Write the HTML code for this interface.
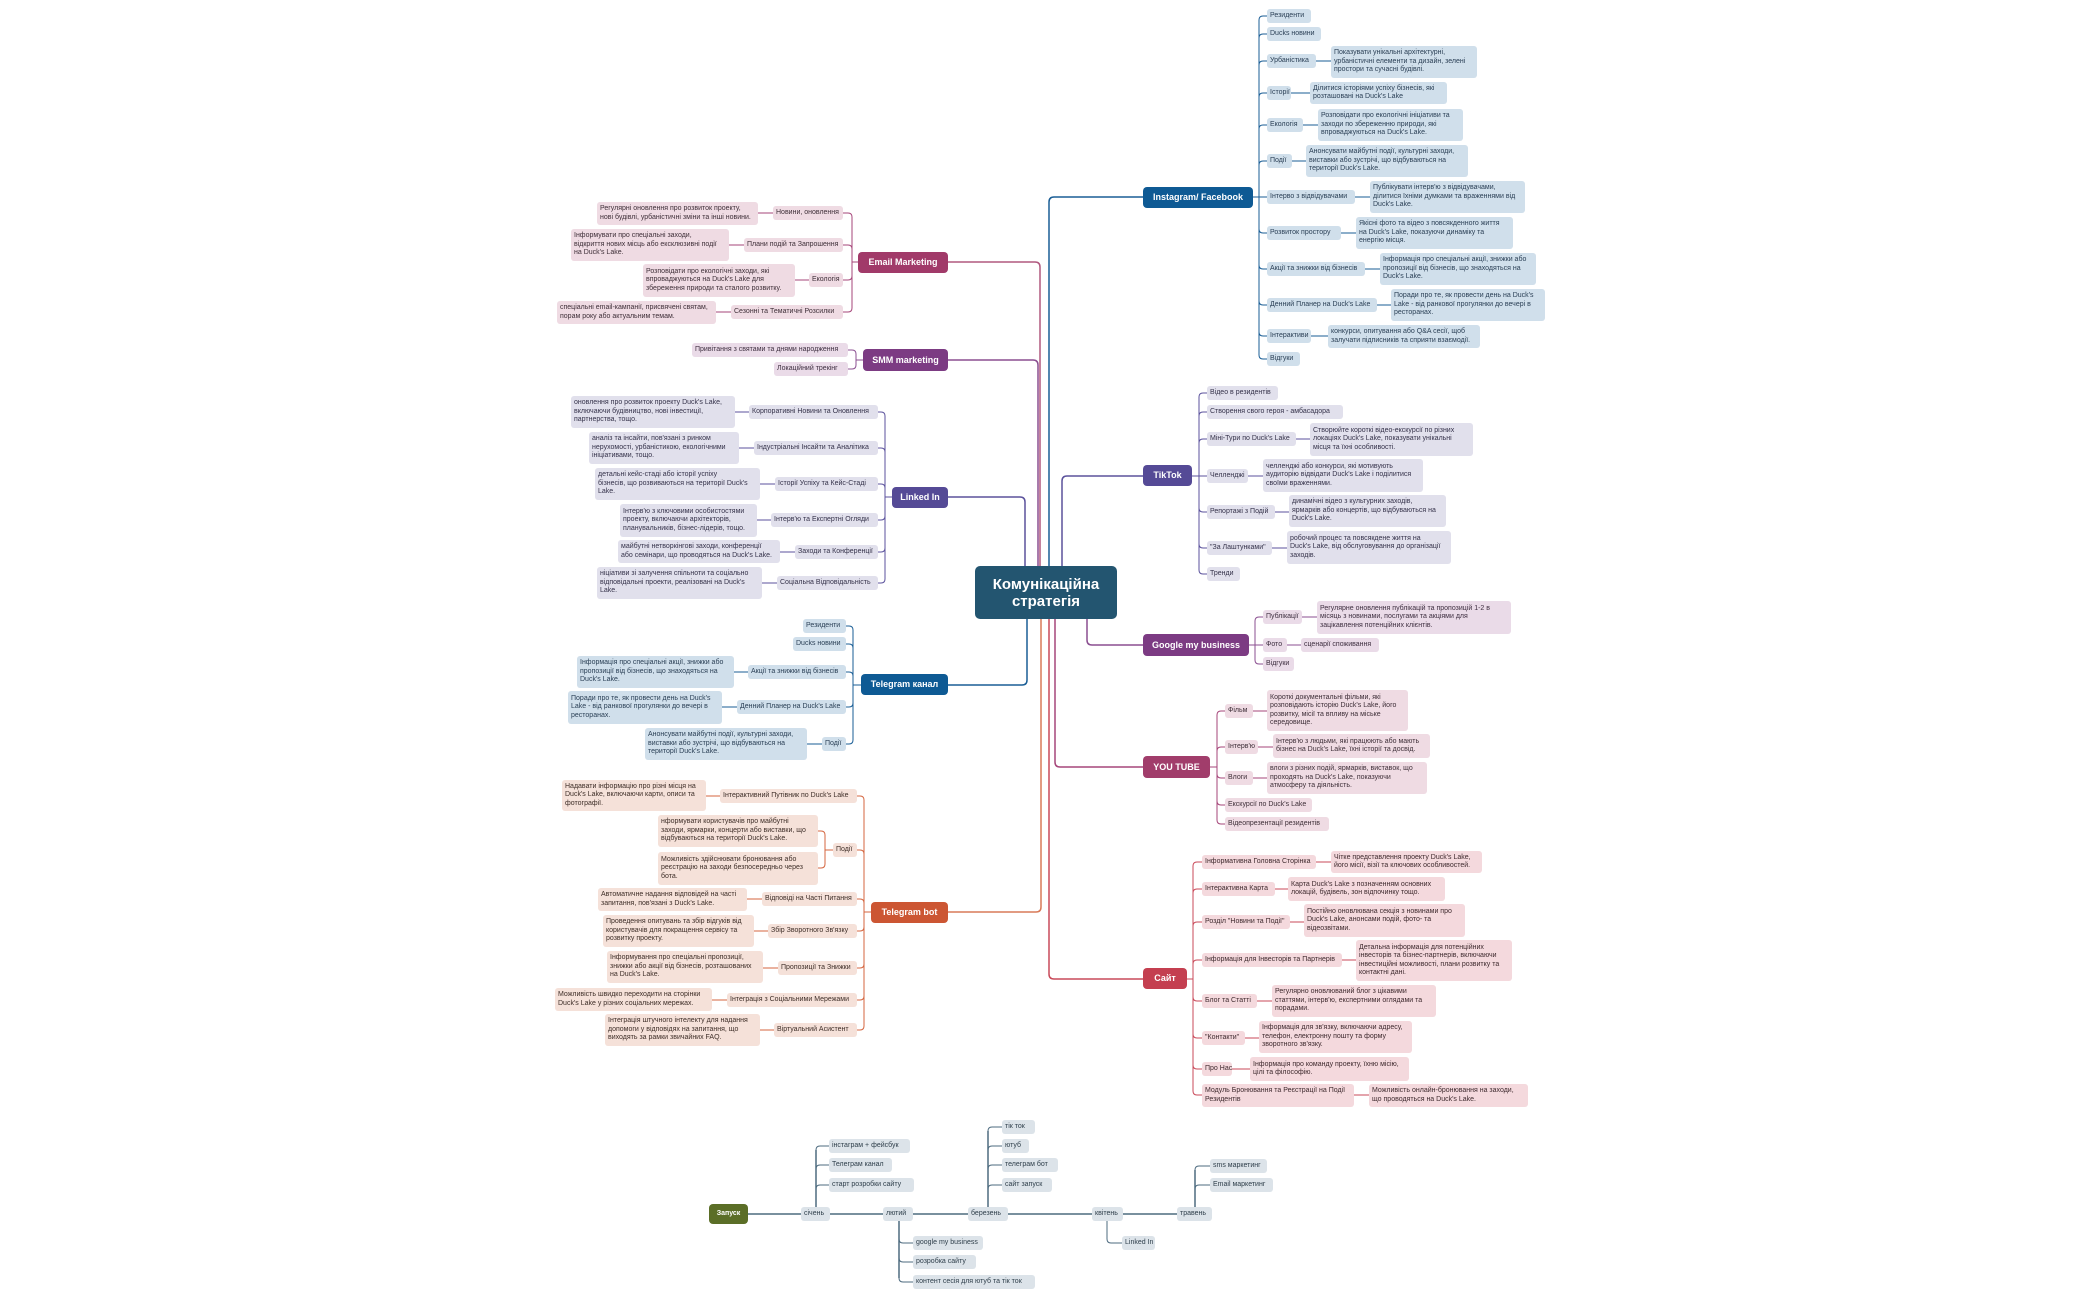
<!DOCTYPE html>
<html><head><meta charset="utf-8">
<style>
html,body{margin:0;padding:0;background:#fff;}
#c{position:relative;width:2100px;height:1299px;overflow:hidden;}
svg{position:absolute;left:0;top:0;}
.n{position:absolute;display:flex;align-items:center;box-sizing:border-box;padding:0 3px;border-radius:3px;font-family:"Liberation Sans","Noto Sans CJK SC",sans-serif;font-size:7px;line-height:8.4px;white-space:nowrap;color:#3a3440;}
.b{background:#d0dfeb;color:#2a3f55}
.p{background:#e1e0ec;color:#35324a}
.m{background:#eadbe8;color:#3e2f40}
.r{background:#efdbe3;color:#3e2f38}
.s{background:#f4d9dd;color:#3e2a2e}
.o{background:#f5e1d9;color:#3e2e28}
.g{background:#dce3e9;color:#2e3e4a}
.h{color:#fff;font-weight:bold;font-size:9px;justify-content:center;padding:0;border-radius:4px}
</style></head><body><div id="c">
<svg id="s" width="2100" height="1299"></svg>

<div class="n h" style="left:975px;top:566px;width:142px;height:53px;background:#235570;font-size:15px;line-height:17px;text-align:center;border-radius:5px">Комунікаційна<br>стратегія</div>

<div class="n h" style="left:1143px;top:187px;width:110px;height:21px;background:#0e5a94">Instagram/ Facebook</div>
<div class="n h" style="left:1143px;top:465px;width:49px;height:21px;background:#554a96">TikTok</div>
<div class="n h" style="left:1143px;top:634px;width:106px;height:22px;background:#7c3b83">Google my business</div>
<div class="n h" style="left:1143px;top:756px;width:67px;height:22px;background:#a13d6b">YOU TUBE</div>
<div class="n h" style="left:1143px;top:968px;width:44px;height:21px;background:#c43f50">Сайт</div>
<div class="n h" style="left:858px;top:252px;width:90px;height:21px;background:#a13a69">Email Marketing</div>
<div class="n h" style="left:863px;top:349px;width:85px;height:22px;background:#7c3b83">SMM marketing</div>
<div class="n h" style="left:892px;top:487px;width:56px;height:21px;background:#554a96">Linked In</div>
<div class="n h" style="left:861px;top:674px;width:87px;height:21px;background:#0e5a94">Telegram канал</div>
<div class="n h" style="left:871px;top:902px;width:77px;height:21px;background:#cc5633">Telegram bot</div>
<div class="n h" style="left:709px;top:1204px;width:39px;height:20px;background:#5b6e27;font-size:7px">Запуск</div>

<!-- Instagram -->
<div class="n b" style="left:1267px;top:9px;width:44px;height:14px">Резиденти</div>
<div class="n b" style="left:1267px;top:27px;width:54px;height:14px">Ducks новини</div>
<div class="n b" style="left:1267px;top:54px;width:49px;height:14px">Урбаністика</div>
<div class="n b" style="left:1331px;top:46px;width:146px;height:32px">Показувати унікальні архітектурні,<br>урбаністичні елементи та дизайн, зелені<br>простори та сучасні будівлі.</div>
<div class="n b" style="left:1267px;top:86px;width:24px;height:14px">Історії</div>
<div class="n b" style="left:1310px;top:82px;width:137px;height:22px">Ділитися історіями успіху бізнесів, які<br>розташовані на Duck's Lake</div>
<div class="n b" style="left:1267px;top:118px;width:36px;height:14px">Екологія</div>
<div class="n b" style="left:1318px;top:109px;width:145px;height:32px">Розповідати про екологічні ініціативи та<br>заходи по збереженню природи, які<br>впроваджуються на Duck's Lake.</div>
<div class="n b" style="left:1267px;top:154px;width:25px;height:14px">Події</div>
<div class="n b" style="left:1306px;top:145px;width:162px;height:32px">Анонсувати майбутні події, культурні заходи,<br>виставки або зустрічі, що відбуваються на<br>території Duck's Lake.</div>
<div class="n b" style="left:1267px;top:190px;width:88px;height:14px">Інтерво з відвідувачами</div>
<div class="n b" style="left:1370px;top:181px;width:155px;height:32px">Публікувати інтерв'ю з відвідувачами,<br>ділитися їхніми думками та враженнями від<br>Duck's Lake.</div>
<div class="n b" style="left:1267px;top:226px;width:74px;height:14px">Розвиток простору</div>
<div class="n b" style="left:1356px;top:217px;width:157px;height:32px">Якісні фото та відео з повсякденного життя<br>на Duck's Lake, показуючи динаміку та<br>енергію місця.</div>
<div class="n b" style="left:1267px;top:262px;width:98px;height:14px">Акції та знижки від бізнесів</div>
<div class="n b" style="left:1380px;top:253px;width:156px;height:32px">Інформація про спеціальні акції, знижки або<br>пропозиції від бізнесів, що знаходяться на<br>Duck's Lake.</div>
<div class="n b" style="left:1267px;top:298px;width:110px;height:14px">Денний Планер на Duck's Lake</div>
<div class="n b" style="left:1391px;top:289px;width:154px;height:32px">Поради про те, як провести день на Duck's<br>Lake - від ранкової прогулянки до вечері в<br>ресторанах.</div>
<div class="n b" style="left:1267px;top:329px;width:44px;height:14px">Інтерактиви</div>
<div class="n b" style="left:1328px;top:325px;width:152px;height:23px">конкурси, опитування або Q&amp;A сесії, щоб<br>залучати підписників та сприяти взаємодії.</div>
<div class="n b" style="left:1267px;top:352px;width:33px;height:14px">Відгуки</div>

<!-- TikTok -->
<div class="n p" style="left:1207px;top:386px;width:71px;height:14px">Відео в резидентів</div>
<div class="n p" style="left:1207px;top:405px;width:136px;height:14px">Створення свого героя - амбасадора</div>
<div class="n p" style="left:1207px;top:432px;width:89px;height:14px">Міні-Тури по Duck's Lake</div>
<div class="n p" style="left:1310px;top:423px;width:163px;height:33px"> Створюйте короткі відео-екскурсії по різних<br>локаціях Duck's Lake, показувати унікальні<br>місця та їхні особливості.</div>
<div class="n p" style="left:1207px;top:469px;width:41px;height:14px">Челленджі</div>
<div class="n p" style="left:1263px;top:459px;width:160px;height:33px">челленджі або конкурси, які мотивують<br>аудиторію відвідати Duck's Lake і поділитися<br>своїми враженнями.</div>
<div class="n p" style="left:1207px;top:505px;width:68px;height:14px">Репортажі з Подій</div>
<div class="n p" style="left:1289px;top:495px;width:157px;height:32px">динамічні відео з культурних заходів,<br>ярмарків або концертів, що відбуваються на<br>Duck's Lake.</div>
<div class="n p" style="left:1207px;top:541px;width:65px;height:14px">"За Лаштунками"</div>
<div class="n p" style="left:1287px;top:531px;width:164px;height:33px">робочий процес та повсякдене життя на<br>Duck's Lake, від обслуговування до організації<br>заходів.</div>
<div class="n p" style="left:1207px;top:567px;width:33px;height:14px">Тренди</div>

<!-- Google -->
<div class="n m" style="left:1263px;top:610px;width:39px;height:14px">Публікації</div>
<div class="n m" style="left:1317px;top:601px;width:194px;height:33px">Регулярне оновлення публікацій та пропозицій 1-2 в<br>місяць з  новинами, послугами та акціями для<br>зацікавлення потенційних клієнтів.</div>
<div class="n m" style="left:1263px;top:638px;width:24px;height:14px">Фото</div>
<div class="n m" style="left:1301px;top:638px;width:78px;height:14px">сценарії споживання</div>
<div class="n m" style="left:1263px;top:657px;width:31px;height:14px">Відгуки</div>

<!-- YouTube -->
<div class="n r" style="left:1225px;top:704px;width:28px;height:14px">Фільм</div>
<div class="n r" style="left:1267px;top:690px;width:141px;height:41px">Короткі документальні фільми, які<br>розповідають історію Duck's Lake, його<br>розвитку, місії та впливу на міське<br>середовище.</div>
<div class="n r" style="left:1225px;top:740px;width:33px;height:14px">Інтерв'ю</div>
<div class="n r" style="left:1273px;top:734px;width:157px;height:24px">Інтерв'ю з людьми, які працюють або мають<br>бізнес на Duck's Lake,  їхні історії та досвід.</div>
<div class="n r" style="left:1225px;top:771px;width:28px;height:14px">Влоги</div>
<div class="n r" style="left:1267px;top:762px;width:160px;height:32px"> влоги з різних подій, ярмарків, виставок, що<br>проходять на Duck's Lake, показуючи<br>атмосферу та діяльність.</div>
<div class="n r" style="left:1225px;top:798px;width:87px;height:14px">Екскурсії по Duck's Lake</div>
<div class="n r" style="left:1225px;top:817px;width:104px;height:14px">Відеопрезентації резидентів</div>

<!-- Site -->
<div class="n s" style="left:1202px;top:855px;width:114px;height:14px">Інформативна Головна Сторінка</div>
<div class="n s" style="left:1331px;top:851px;width:151px;height:22px">Чітке представлення проекту Duck's Lake,<br>його місії, візії та ключових особливостей.</div>
<div class="n s" style="left:1202px;top:882px;width:73px;height:14px">Інтерактивна Карта</div>
<div class="n s" style="left:1288px;top:877px;width:157px;height:24px"> Карта Duck's Lake з позначенням основних<br>локацій, будівель, зон відпочинку тощо.</div>
<div class="n s" style="left:1202px;top:915px;width:88px;height:14px">Розділ "Новини та Події"</div>
<div class="n s" style="left:1304px;top:904px;width:161px;height:33px">Постійно оновлювана секція з новинами про<br>Duck's Lake, анонсами подій, фото- та<br>відеозвітами.</div>
<div class="n s" style="left:1202px;top:953px;width:140px;height:14px">Інформація для Інвесторів та Партнерів</div>
<div class="n s" style="left:1356px;top:940px;width:156px;height:41px">Детальна інформація для потенційних<br>інвесторів та бізнес-партнерів, включаючи<br>інвестиційні можливості, плани розвитку та<br>контактні дані.</div>
<div class="n s" style="left:1202px;top:994px;width:55px;height:14px">Блог та Статті</div>
<div class="n s" style="left:1272px;top:985px;width:164px;height:32px">Регулярно оновлюваний блог з цікавими<br>статтями, інтерв'ю, експертними оглядами та<br>порадами.</div>
<div class="n s" style="left:1202px;top:1031px;width:43px;height:14px">"Контакти"</div>
<div class="n s" style="left:1259px;top:1021px;width:153px;height:32px">Інформація для зв'язку, включаючи адресу,<br>телефон, електронну пошту та форму<br>зворотного зв'язку.</div>
<div class="n s" style="left:1202px;top:1062px;width:30px;height:14px">Про Нас</div>
<div class="n s" style="left:1250px;top:1057px;width:159px;height:24px">Інформація про команду проекту, їхню місію,<br>цілі та філософію.</div>
<div class="n s" style="left:1202px;top:1084px;width:152px;height:23px">Модуль Бронювання та Реєстрації на Події<br>Резидентів</div>
<div class="n s" style="left:1369px;top:1084px;width:159px;height:23px"> Можливість онлайн-бронювання на заходи,<br>що проводяться на Duck's Lake.</div>

<!-- Email -->
<div class="n r" style="left:773px;top:206px;width:70px;height:14px">Новини, оновлення</div>
<div class="n r" style="left:597px;top:202px;width:161px;height:23px">Регулярні оновлення про розвиток проекту,<br>нові будівлі, урбаністичні зміни та інші новини.</div>
<div class="n r" style="left:744px;top:238px;width:99px;height:14px">Плани подій та Запрошення</div>
<div class="n r" style="left:571px;top:229px;width:158px;height:32px">Інформувати про спеціальні заходи,<br>відкриття нових місць або ексклюзивні події<br>на Duck's Lake.</div>
<div class="n r" style="left:809px;top:273px;width:34px;height:14px">Екологія</div>
<div class="n r" style="left:643px;top:264px;width:152px;height:33px">Розповідати про екологічні заходи, які<br>впроваджуються на Duck's Lake для<br>збереження природи та сталого розвитку.</div>
<div class="n r" style="left:731px;top:305px;width:112px;height:14px">Сезонні та Тематичні Розсилки</div>
<div class="n r" style="left:557px;top:301px;width:159px;height:23px">спеціальні email-кампанії, присвячені святам,<br>порам року або актуальним темам.</div>

<!-- SMM -->
<div class="n m" style="left:692px;top:343px;width:156px;height:14px">Привітання з святами та днями народження</div>
<div class="n m" style="left:774px;top:362px;width:74px;height:14px">Локаційний трекінг</div>

<!-- LinkedIn -->
<div class="n p" style="left:749px;top:405px;width:129px;height:14px">Корпоративні Новини та Оновлення</div>
<div class="n p" style="left:571px;top:396px;width:164px;height:32px">оновлення про розвиток проекту Duck's Lake,<br>включаючи будівництво, нові інвестиції,<br>партнерства, тощо.</div>
<div class="n p" style="left:754px;top:441px;width:124px;height:14px">Індустріальні Інсайти та Аналітика</div>
<div class="n p" style="left:589px;top:432px;width:150px;height:32px">аналіз та інсайти, пов'язані з ринком<br>нерухомості, урбаністикою, екологічними<br>ініціативами, тощо.</div>
<div class="n p" style="left:775px;top:477px;width:103px;height:14px">Історії Успіху та Кейс-Стаді</div>
<div class="n p" style="left:595px;top:468px;width:165px;height:32px">детальні кейс-стаді або історії успіху<br>бізнесів, що розвиваються на території Duck's<br>Lake.</div>
<div class="n p" style="left:771px;top:513px;width:107px;height:14px">Інтерв'ю та Експертні Огляди</div>
<div class="n p" style="left:620px;top:504px;width:137px;height:33px">Інтерв'ю з ключовими особистостями<br>проекту, включаючи архітекторів,<br>планувальників, бізнес-лідерів, тощо.</div>
<div class="n p" style="left:795px;top:545px;width:83px;height:14px">Заходи та Конференції</div>
<div class="n p" style="left:618px;top:540px;width:162px;height:23px">майбутні нетворкінгові заходи, конференції<br>або семінари, що проводяться на Duck's Lake.</div>
<div class="n p" style="left:777px;top:576px;width:101px;height:14px">Соціальна Відповідальність</div>
<div class="n p" style="left:597px;top:567px;width:165px;height:32px">ніціативи зі залучення спільноти та соціально<br>відповідальні проекти, реалізовані на Duck's<br>Lake.</div>

<!-- Telegram channel -->
<div class="n b" style="left:803px;top:619px;width:43px;height:14px">Резиденти</div>
<div class="n b" style="left:793px;top:637px;width:53px;height:14px">Ducks новини</div>
<div class="n b" style="left:748px;top:665px;width:98px;height:14px">Акції та знижки від бізнесів</div>
<div class="n b" style="left:577px;top:656px;width:157px;height:32px">Інформація про спеціальні акції, знижки або<br>пропозиції від бізнесів, що знаходяться на<br>Duck's Lake.</div>
<div class="n b" style="left:737px;top:700px;width:109px;height:14px">Денний Планер на Duck's Lake</div>
<div class="n b" style="left:568px;top:691px;width:154px;height:33px">Поради про те, як провести день на Duck's<br>Lake - від ранкової прогулянки до вечері в<br>ресторанах.</div>
<div class="n b" style="left:822px;top:737px;width:24px;height:14px">Події</div>
<div class="n b" style="left:645px;top:728px;width:162px;height:32px">Анонсувати майбутні події, культурні заходи,<br>виставки або зустрічі, що відбуваються на<br>території Duck's Lake.</div>

<!-- Telegram bot -->
<div class="n o" style="left:720px;top:789px;width:137px;height:14px">Інтерактивний Путівник по Duck's Lake</div>
<div class="n o" style="left:562px;top:780px;width:144px;height:31px">Надавати інформацію про різні місця на<br>Duck's Lake, включаючи карти, описи та<br>фотографії.</div>
<div class="n o" style="left:833px;top:843px;width:24px;height:14px">Події</div>
<div class="n o" style="left:658px;top:815px;width:160px;height:32px">нформувати користувачів про майбутні<br>заходи, ярмарки, концерти або виставки, що<br>відбуваються на території Duck's Lake.</div>
<div class="n o" style="left:658px;top:852px;width:160px;height:33px">Можливість здійснювати бронювання або<br>реєстрацію на заходи безпосередньо через<br>бота.</div>
<div class="n o" style="left:762px;top:892px;width:95px;height:14px">Відповіді на Часті Питання</div>
<div class="n o" style="left:598px;top:888px;width:149px;height:23px">Автоматичне надання відповідей на часті<br>запитання, пов'язані з Duck's Lake.</div>
<div class="n o" style="left:768px;top:924px;width:89px;height:14px">Збір Зворотного Зв'язку</div>
<div class="n o" style="left:603px;top:915px;width:151px;height:32px">Проведення опитувань та збір відгуків від<br>користувачів для покращення сервісу та<br>розвитку проекту.</div>
<div class="n o" style="left:778px;top:961px;width:79px;height:14px">Пропозиції та Знижки</div>
<div class="n o" style="left:607px;top:951px;width:156px;height:32px"> Інформування про спеціальні пропозиції,<br>знижки або акції від бізнесів, розташованих<br>на Duck's Lake.</div>
<div class="n o" style="left:727px;top:993px;width:130px;height:14px">Інтеграція з Соціальними Мережами</div>
<div class="n o" style="left:555px;top:988px;width:157px;height:23px">Можливість швидко переходити на сторінки<br>Duck's Lake у різних соціальних мережах.</div>
<div class="n o" style="left:774px;top:1023px;width:83px;height:14px">Віртуальний Асистент</div>
<div class="n o" style="left:605px;top:1014px;width:155px;height:32px">Інтеграція штучного інтелекту для надання<br>допомоги у відповідях на запитання, що<br>виходять за рамки звичайних FAQ.</div>

<!-- Timeline -->
<div class="n g" style="left:801px;top:1207px;width:29px;height:14px">січень</div>
<div class="n g" style="left:883px;top:1207px;width:30px;height:14px">лютий</div>
<div class="n g" style="left:968px;top:1207px;width:40px;height:14px">березень</div>
<div class="n g" style="left:1092px;top:1207px;width:31px;height:14px">квітень</div>
<div class="n g" style="left:1177px;top:1207px;width:35px;height:14px">травень</div>
<div class="n g" style="left:829px;top:1139px;width:81px;height:14px">інстаграм + фейсбук</div>
<div class="n g" style="left:829px;top:1158px;width:63px;height:14px">Телеграм канал</div>
<div class="n g" style="left:829px;top:1178px;width:85px;height:14px">старт розробки сайту</div>
<div class="n g" style="left:913px;top:1236px;width:70px;height:14px">google my business</div>
<div class="n g" style="left:913px;top:1255px;width:63px;height:14px">розробка сайту</div>
<div class="n g" style="left:913px;top:1275px;width:122px;height:14px">контент сесія для ютуб та тік ток</div>
<div class="n g" style="left:1002px;top:1120px;width:33px;height:14px">тік ток</div>
<div class="n g" style="left:1002px;top:1139px;width:27px;height:14px">ютуб</div>
<div class="n g" style="left:1002px;top:1158px;width:56px;height:14px">телеграм бот</div>
<div class="n g" style="left:1002px;top:1178px;width:50px;height:14px">сайт запуск</div>
<div class="n g" style="left:1122px;top:1236px;width:33px;height:14px">Linked In</div>
<div class="n g" style="left:1210px;top:1159px;width:57px;height:14px">sms маркетинг</div>
<div class="n g" style="left:1210px;top:1178px;width:63px;height:14px">Email маркетинг</div>
</div>
<script>
var S=document.getElementById('s'),out='';
function P(d,c,w){out+='<path d="'+d+'" fill="none" stroke="'+c+'" stroke-width="'+(w||1)+'"/>';}
function el(px,py,lx,y,ex,c,w){var r=4,dir=ex>lx?1:-1;
 if(Math.abs(y-py)<r){P('M'+px+' '+py+' H'+lx+' V'+y+' H'+ex,c,w);return;}
 var s=y>py?1:-1;
 P('M'+px+' '+py+' H'+lx+' V'+(y-s*r)+' Q'+lx+' '+y+' '+(lx+dir*r)+' '+y+' H'+ex,c,w);}
function tr(x,y0,y1,ex,c){var r=5,dir=ex>x?1:-1,s=y1>y0?1:-1;
 P('M'+x+' '+y0+' V'+(y1-s*r)+' Q'+x+' '+y1+' '+(x+dir*r)+' '+y1+' H'+ex,c,1.5);}
function H(x1,x2,y,c){P('M'+x1+' '+y+' H'+x2,c,1);}
var B='#1a5e96',U='#5b529c',M='#8b4f91',R='#a6467a',T='#c94a5a',O='#d4653f',G='#4d6b7f';
// trunks
tr(1049,566,197,1143,B);tr(1062,566,476,1143,U);tr(1087,619,645,1143,M);tr(1055,619,767,1143,R);tr(1049,619,979,1143,T);
tr(1040,566,262,948,'#b0587f');tr(1038,566,360,948,M);tr(1025,566,497,948,U);tr(1027,619,685,948,B);tr(1041,619,912,948,'#d97a58');
// right trees: [y, childLeft, childRight, descLeft]
function RT(px,py,lx,cl,kids,c){kids.forEach(function(k){el(px,py,lx,k[0],cl,c);if(k[2])H(k[1],k[2],k[0],c);});}
RT(1253,197,1259,1267,[[16],[34],[61,1316,1331],[93,1291,1310],[125,1303,1318],[161,1292,1306],[197,1355,1370],[233,1341,1356],[269,1365,1380],[305,1377,1391],[336,1311,1328],[359]],B);
RT(1192,476,1199,1207,[[393],[412],[439,1296,1310],[476,1248,1263],[512,1275,1289],[548,1272,1287],[574]],U);
RT(1249,645,1255,1263,[[617,1302,1317],[645,1287,1301],[664]],M);
RT(1210,767,1217,1225,[[711,1253,1267],[747,1258,1273],[778,1253,1267],[805],[824]],R);
RT(1187,979,1193,1202,[[862,1316,1331],[889,1275,1288],[922,1290,1304],[960,1342,1356],[1001,1257,1272],[1038,1245,1259],[1069,1232,1250],[1095,1354,1369]],T);
// left trees: [y, childLeft, descRight]
function LT(px,py,lx,cr,kids,c){kids.forEach(function(k){el(px,py,lx,k[0],cr,c);if(k[2])H(k[1],k[2],k[0],c);});}
LT(858,262,852,843,[[213,773,758],[245,744,729],[280,809,795],[312,731,716]],R);
LT(863,360,856,848,[[350],[369]],M);
LT(892,497,885,878,[[412,749,735],[448,754,739],[484,775,760],[520,771,757],[552,795,780],[583,777,762]],U);
LT(861,685,853,846,[[626],[644],[672,748,734],[707,737,722],[744,822,807]],B);
LT(871,912,864,857,[[796,720,706],[850],[899,762,747],[931,768,754],[968,778,763],[1000,727,712],[1030,774,760]],O);
el(833,850,825,831,818,O);el(833,850,825,868,818,O);
// timeline
P('M748 1214 H1177',G,1.5);
[[1146],[1165],[1185]].forEach(function(k){el(816,1207,816,k[0],829,G);});
P('M816 1207 V1150',G,1.5);
[[1243],[1262],[1282]].forEach(function(k){el(899,1221,899,k[0],913,G);});
P('M899 1221 V1278',G,1.5);
[[1127],[1146],[1165],[1185]].forEach(function(k){el(988,1207,988,k[0],1002,G);});
P('M988 1207 V1131',G,1.5);
el(1107,1221,1107,1243,1122,G);
[[1166],[1185]].forEach(function(k){el(1195,1207,1195,k[0],1210,G);});
P('M1195 1207 V1170',G,1.5);
S.innerHTML=out;
</script>
</body></html>
